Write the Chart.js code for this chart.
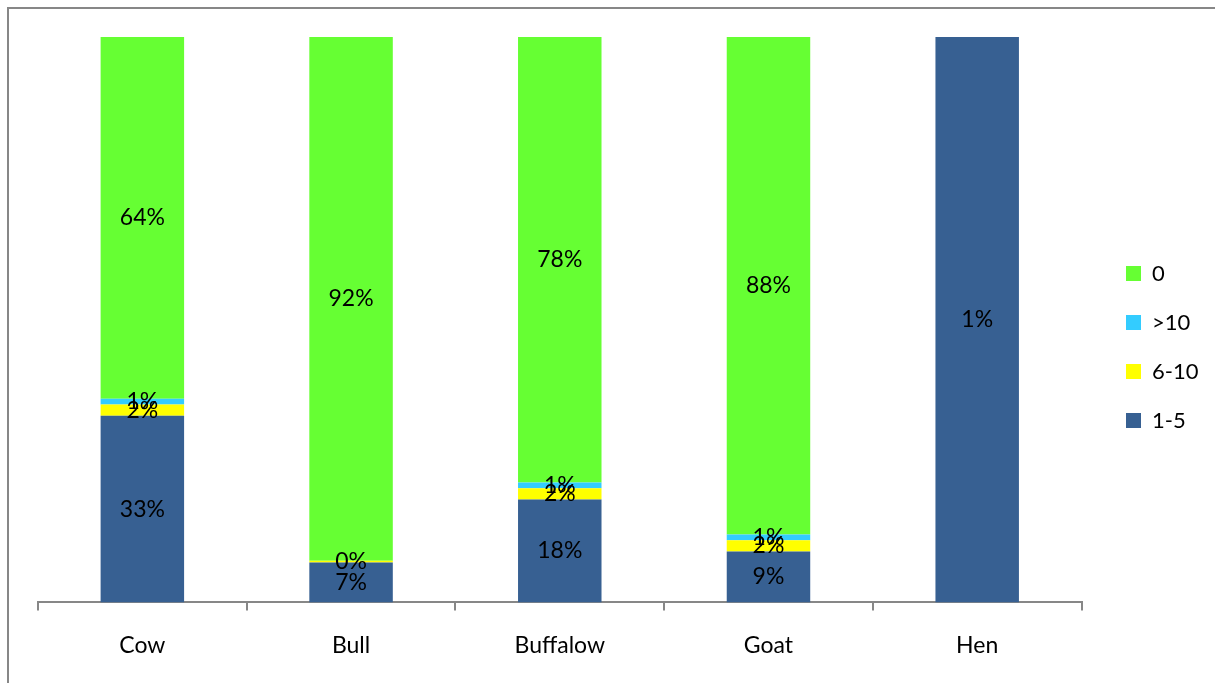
<!DOCTYPE html>
<html>
<head>
<meta charset="utf-8">
<script src="https://cdn.jsdelivr.net/npm/chart.js@4/dist/chart.umd.min.js"></script>
<style>
  body { margin: 0; background: #fff; }
  #wrap { position: relative; width: 1215px; height: 683px; }
  #frame {
    position: absolute; left: 7px; top: 7px; right: 0; bottom: 0;
    border-top: 2px solid #878787; border-left: 2px solid #878787;
  }
  #chart { position: absolute; left: 0; top: 0; }
</style>
</head>
<body>
<div id="wrap">
  <div id="frame"></div>
  <canvas id="chart" width="1215" height="683"></canvas>
</div>
<script>
const categories = ['Cow', 'Bull', 'Buffalow', 'Goat', 'Hen'];

// share of animals per group (percent), null = no entry
const oneToFive = [33, 7, 18, 9, 1];
const sixToTen = [2, 0.3, 2, 2, null];
const overTen = [1, null, 1, 1, null];
const none = [64, 92, 78, 88, null];

const FONT = 'Lato';

// bars are drawn as 100% stacks, so each column is scaled by its own total
const totals = categories.map((c, i) =>
  [oneToFive, sixToTen, overTen, none].reduce((s, arr) => s + (arr[i] || 0), 0));
const toShare = arr => arr.map((v, i) => v == null ? null : v / totals[i] * 100);

function series(label, raw, color) {
  return {
    label,
    data: toShare(raw),
    raw,
    backgroundColor: color,
    borderWidth: 0,
    categoryPercentage: 1,
    barPercentage: 0.4
  };
}

// value labels in the middle of each segment
const segmentLabels = {
  id: 'segmentLabels',
  afterDatasetsDraw(chart) {
    const ctx = chart.ctx;
    ctx.save();
    ctx.font = '23px ' + FONT;
    ctx.fillStyle = '#000';
    ctx.textAlign = 'center';
    ctx.textBaseline = 'middle';
    chart.data.datasets.forEach((ds, di) => {
      const meta = chart.getDatasetMeta(di);
      meta.data.forEach((bar, i) => {
        const v = ds.raw[i];
        if (v == null) return;
        ctx.fillText(Math.round(v) + '%', bar.x, (bar.y + bar.base) / 2);
      });
    });
    ctx.restore();
  }
};

// nudge the legend away from the plot and lift it a little
const legendShift = {
  id: 'legendShift',
  afterLayout(chart) {
    const lg = chart.legend;
    if (!lg) return;
    const dx = 1126 - (lg.left + lg.options.labels.padding);
    lg.left += dx;
    lg.right += dx;
    lg.bottom -= 23;
  }
};

new Chart(document.getElementById('chart'), {
  type: 'bar',
  data: {
    labels: categories,
    datasets: [
      series('1-5', oneToFive, '#376092'),
      series('6-10', sixToTen, '#ffff00'),
      series('>10', overTen, '#33ccff'),
      series('0', none, '#66ff33')
    ]
  },
  options: {
    responsive: false,
    animation: false,
    layout: { padding: { top: 37, left: 38, right: 24, bottom: 3 } },
    plugins: {
      tooltip: { enabled: false },
      legend: {
        position: 'right',
        reverse: true,
        labels: {
          boxWidth: 15,
          boxHeight: 15,
          padding: 27,
          color: '#000',
          font: { family: FONT, size: 22 }
        }
      }
    },
    scales: {
      x: {
        stacked: true,
        grid: {
          offset: true,
          drawOnChartArea: false,
          tickLength: 8,
          color: '#878787',
          lineWidth: 2
        },
        border: { color: '#878787', width: 2 },
        ticks: {
          color: '#000',
          padding: 21,
          font: { family: FONT, size: 23 }
        }
      },
      y: {
        stacked: true,
        display: false,
        min: 0,
        max: 100
      }
    }
  },
  plugins: [segmentLabels, legendShift]
});
</script>
</body>
</html>
